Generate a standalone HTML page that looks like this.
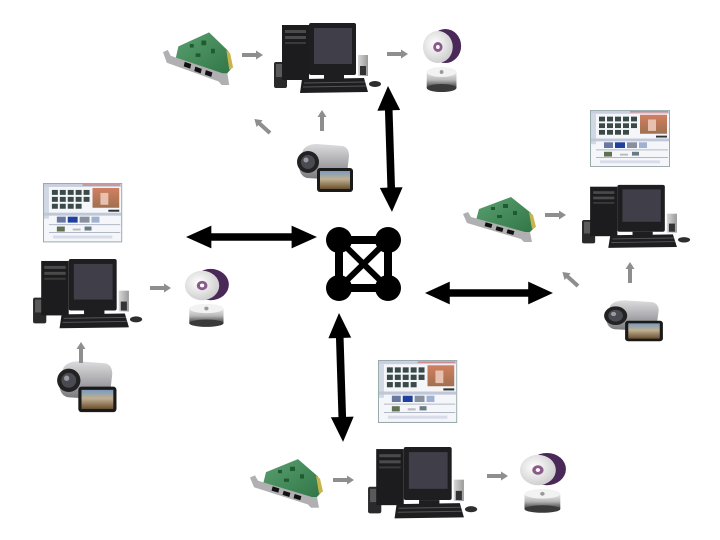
<!DOCTYPE html>
<html><head><meta charset="utf-8">
<style>
html,body{margin:0;padding:0;background:#fff;}
svg{display:block;}
</style></head>
<body>
<svg width="720" height="540" viewBox="0 0 720 540" xmlns="http://www.w3.org/2000/svg">
<defs>
  <linearGradient id="spk" x1="0" x2="1"><stop offset="0" stop-color="#d8d8d8"/><stop offset="1" stop-color="#9a9a9a"/></linearGradient>
  <linearGradient id="silver" x1="0" y1="0" x2="0" y2="1"><stop offset="0" stop-color="#dcdcde"/><stop offset="0.5" stop-color="#acacb0"/><stop offset="1" stop-color="#76767a"/></linearGradient>
  <linearGradient id="scr" x1="0" y1="0" x2="0" y2="1"><stop offset="0" stop-color="#7a9ac0"/><stop offset="0.45" stop-color="#c0b090"/><stop offset="1" stop-color="#6a5030"/></linearGradient>
  <radialGradient id="cd" cx="0.4" cy="0.4" r="0.7"><stop offset="0" stop-color="#ffffff"/><stop offset="1" stop-color="#c8c8c8"/></radialGradient>
  <linearGradient id="spindle" x1="0" y1="0" x2="0" y2="1"><stop offset="0" stop-color="#e8e8e8"/><stop offset="0.5" stop-color="#b8b8b8"/><stop offset="1" stop-color="#3a3a3a"/></linearGradient>
  <linearGradient id="prev" x1="0" y1="0" x2="0" y2="1"><stop offset="0" stop-color="#d08060"/><stop offset="1" stop-color="#a07050"/></linearGradient>
  <linearGradient id="green" x1="0" y1="0" x2="1" y2="1"><stop offset="0" stop-color="#5aa070"/><stop offset="1" stop-color="#2f7444"/></linearGradient>

  <g id="pc">
    <rect x="2" y="40" width="13" height="26" rx="2" fill="#2a2a2a"/>
    <rect x="4" y="42" width="9" height="13" fill="#5a5a5a"/>
    <rect x="10" y="3" width="27" height="55" fill="#1c1c1e"/>
    <rect x="13" y="8" width="21" height="3" fill="#4a4a4a"/>
    <rect x="13" y="14" width="21" height="3" fill="#4a4a4a"/>
    <rect x="13" y="20" width="21" height="2" fill="#3a3a3a"/>
    <rect x="37" y="1" width="47" height="52" rx="2" fill="#1e1e20"/>
    <rect x="42" y="6" width="38" height="36" fill="#403e48"/>
    <rect x="52" y="53" width="20" height="5" fill="#1e1e20"/>
    <rect x="86" y="33" width="10" height="21" fill="url(#spk)"/>
    <rect x="88" y="44" width="6" height="9" fill="#333"/>
    <polygon points="30,57 92,56 96,70 28,71" fill="#1e1e20"/>
    <line x1="32" y1="61" x2="93" y2="60" stroke="#555" stroke-width="1"/>
    <line x1="31" y1="65" x2="94" y2="64" stroke="#555" stroke-width="1"/>
    <ellipse cx="103" cy="62" rx="6" ry="3" fill="#2e2e2e"/>
  </g>

  <g id="card">
    <polygon points="16,14 48,2 68,18 72,32 64,40 12,29" fill="url(#green)"/>
    <polygon points="66,17 70,20 73,32 69,34" fill="#c8b44c"/>
    <g fill="#1f5a30"><rect x="28" y="12" width="4" height="3"/><rect x="40" y="9" width="5" height="4"/><rect x="50" y="16" width="4" height="4"/><rect x="34" y="20" width="5" height="3"/></g>
    <polygon points="0,19 5,17 8,22 62,37 67,37 69,47 61,47 58,44 4,28" fill="#b0b0b2"/>
    <rect x="22" y="28" width="7" height="4" fill="#111" transform="rotate(16 25 30)"/>
    <rect x="33" y="32" width="7" height="4" fill="#111" transform="rotate(16 36 34)"/>
    <rect x="44" y="35" width="7" height="4" fill="#111" transform="rotate(16 47 37)"/>
  </g>

  <g id="cam">
    <path d="M8,10 Q12,4 22,4 L48,6 Q54,8 54,16 L52,34 Q50,40 44,40 L12,38 Q4,36 4,24 Z" fill="url(#silver)"/>
    <circle cx="13" cy="22" r="11" fill="#222"/>
    <circle cx="13" cy="22" r="7" fill="#4a4a52"/>
    <circle cx="11" cy="20" r="2.5" fill="#9a9aa4"/>
    <rect x="22" y="28" width="36" height="24" rx="3" fill="#1a1a1a"/>
    <rect x="25" y="31" width="30" height="18" fill="url(#scr)"/>
  </g>

  <g id="disc">
    <circle cx="24" cy="18" r="17" fill="#4a2858"/>
    <circle cx="16" cy="19" r="16" fill="url(#cd)"/>
    <circle cx="16" cy="19" r="5" fill="#8a5a8a"/>
    <circle cx="16" cy="19" r="2" fill="#fff"/>
    <rect x="4" y="44" width="32" height="16" fill="url(#spindle)"/>
    <ellipse cx="20" cy="60" rx="16" ry="4" fill="#3a3a3a"/>
    <ellipse cx="20" cy="44" rx="16" ry="5" fill="#f2f2f2"/>
    <circle cx="20" cy="44" r="2" fill="#999"/>
  </g>

  <g id="win">
    <rect x="0.5" y="0.5" width="79" height="59" fill="#f4f6fa" stroke="#9aa" stroke-width="1"/>
    <rect x="1" y="1" width="78" height="3" fill="#c8d0e0"/>
    <line x1="40" y1="2" x2="78" y2="2" stroke="#d06060" stroke-width="1"/>
    <rect x="1" y="4" width="5" height="32" fill="#d0d8e4"/>
    <g fill="#3a4a48">
      <rect x="9" y="7" width="6" height="5"/><rect x="17" y="7" width="6" height="5"/><rect x="25" y="7" width="6" height="5"/><rect x="33" y="7" width="6" height="5"/><rect x="41" y="7" width="6" height="5"/>
      <rect x="9" y="14" width="6" height="5"/><rect x="17" y="14" width="6" height="5"/><rect x="25" y="14" width="6" height="5"/><rect x="33" y="14" width="6" height="5"/><rect x="41" y="14" width="6" height="5"/>
      <rect x="9" y="21" width="6" height="5"/><rect x="17" y="21" width="6" height="5"/><rect x="25" y="21" width="6" height="5"/><rect x="33" y="21" width="6" height="5"/>
    </g>
    <rect x="50" y="5" width="27" height="20" fill="url(#prev)"/>
    <rect x="58" y="10" width="8" height="12" fill="#e8c0b0"/>
    <rect x="66" y="27" width="11" height="2" fill="#333"/>
    <rect x="1" y="30" width="78" height="3" fill="#c0c8d8"/>
    <rect x="14" y="34" width="9" height="6" fill="#6878a0"/>
    <rect x="25" y="34" width="10" height="6" fill="#2040a0"/>
    <rect x="37" y="34" width="10" height="6" fill="#8890a0"/>
    <rect x="49" y="34" width="8" height="6" fill="#a0b0d0"/>
    <line x1="6" y1="42" x2="78" y2="42" stroke="#b0b8c8"/>
    <rect x="14" y="44" width="8" height="5" fill="#607050"/>
    <rect x="30" y="46" width="8" height="2" fill="#bbb"/>
    <rect x="42" y="44" width="7" height="4" fill="#6a7a80"/>
    <line x1="6" y1="50" x2="78" y2="50" stroke="#b0b8c8"/>
    <rect x="10" y="53" width="60" height="3" fill="#d8dce8"/>
  </g>

  <polygon id="dbl" points="0,0 24,-12 24,-4 100,-4 100,-12 124,0 100,12 100,4 24,4 24,12"/>
  <polygon id="garr" points="0,-2 14,-2 14,-4.5 21,0 14,4.5 14,2 0,2" fill="#8e8e8e"/>
</defs>

<rect width="720" height="540" fill="#fff"/>

<!-- computers -->
<use href="#pc" transform="translate(272,22)"/>
<use href="#pc" transform="translate(31,258) scale(1.02,0.99)"/>
<use href="#pc" transform="translate(580,184) scale(1.01,0.9)"/>
<use href="#pc" transform="translate(366,446) scale(1.02,1.02)"/>

<!-- cards -->
<use href="#card" transform="translate(163,30) scale(0.96,1.17)"/>
<use href="#card" transform="translate(463,195)"/>
<use href="#card" transform="translate(250,457) scale(1,1.08)"/>

<!-- cameras -->
<use href="#cam" transform="translate(295,140)"/>
<use href="#cam" transform="translate(55,357) scale(1.06,1.06)"/>
<use href="#cam" transform="translate(602,297) scale(1.05,0.85)"/>

<!-- discs -->
<use href="#disc" transform="translate(423,28) scale(0.93,1)"/>
<use href="#disc" transform="translate(185,268) scale(1.07,0.92)"/>
<use href="#disc" transform="translate(520,452) scale(1.12,0.95)"/>

<!-- software windows -->
<use href="#win" transform="translate(43,183) scale(0.99,0.99)"/>
<use href="#win" transform="translate(590,110) scale(1,0.95)"/>
<use href="#win" transform="translate(378,360) scale(0.99,1.05)"/>

<!-- gray arrows -->
<use href="#garr" transform="translate(242,55)"/>
<use href="#garr" transform="translate(387,54)"/>
<use href="#garr" transform="translate(270,133) rotate(-138)"/>
<use href="#garr" transform="translate(322,131) rotate(-90)"/>
<use href="#garr" transform="translate(150,288)"/>
<use href="#garr" transform="translate(81,363) rotate(-90)"/>
<use href="#garr" transform="translate(545,215)"/>
<use href="#garr" transform="translate(578,286) rotate(-138)"/>
<use href="#garr" transform="translate(630,283) rotate(-90)"/>
<use href="#garr" transform="translate(333,480)"/>
<use href="#garr" transform="translate(487,476)"/>

<!-- black double arrows -->
<use href="#dbl" fill="#000" transform="translate(186,237) scale(1.056,0.95)"/>
<use href="#dbl" fill="#000" transform="translate(425,293) scale(1.032,0.95)"/>
<use href="#dbl" fill="#000" transform="translate(388,86) rotate(88.2) scale(1.016,0.95)"/>
<use href="#dbl" fill="#000" transform="translate(339,313) rotate(88.2) scale(1.04,0.95)"/>

<!-- hub -->
<g stroke="#000" stroke-width="8" fill="none">
  <line x1="339" y1="240" x2="388" y2="240"/>
  <line x1="339" y1="288" x2="388" y2="288"/>
  <line x1="339" y1="240" x2="339" y2="288"/>
  <line x1="388" y1="240" x2="388" y2="288"/>
</g>
<g stroke="#000" stroke-width="6">
  <line x1="339" y1="240" x2="388" y2="288"/>
  <line x1="388" y1="240" x2="339" y2="288"/>
</g>
<g fill="#000">
  <circle cx="339" cy="240" r="13"/>
  <circle cx="388" cy="240" r="13"/>
  <circle cx="339" cy="288" r="13"/>
  <circle cx="388" cy="288" r="13"/>
</g>
</svg>
</body></html>
